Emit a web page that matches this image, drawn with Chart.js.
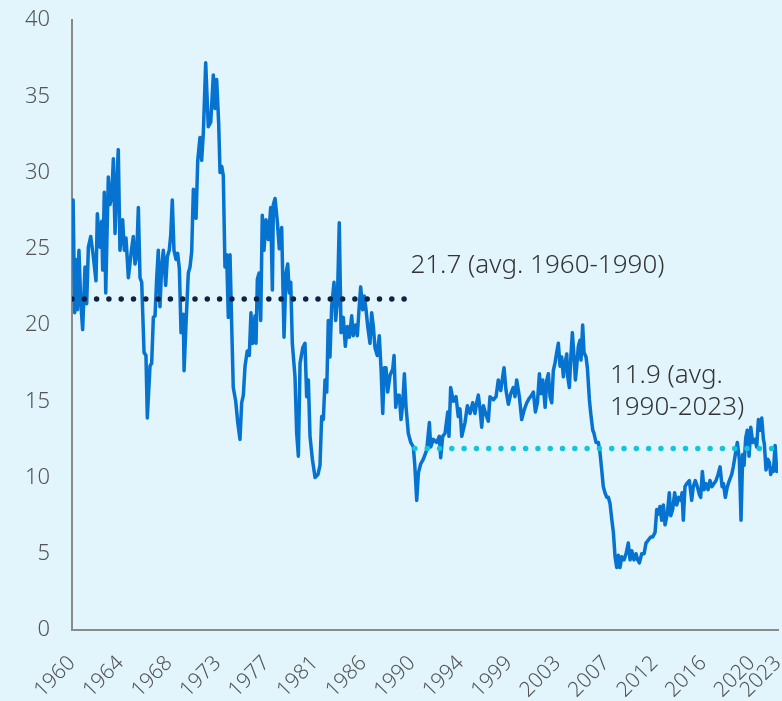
<!DOCTYPE html>
<html>
<head>
<meta charset="utf-8">
<script src="https://cdn.jsdelivr.net/npm/chart.js@4/dist/chart.umd.min.js"></script>
<style>
  html, body { margin: 0; padding: 0; background: #e2f4fc; }
  #wrap { width: 782px; height: 701px; }
</style>
</head>
<body>
<div id="wrap"><canvas id="peChart"></canvas></div>
<script>
  // Series (decimal year, value)
  const peYears = [
    1960.00, 1960.10, 1960.24, 1960.36, 1960.48, 1960.62, 1960.78, 1960.95, 1961.16, 1961.31,
    1961.46, 1961.67, 1961.90, 1962.14, 1962.26, 1962.50, 1962.65, 1962.74, 1962.88, 1963.01,
    1963.24, 1963.39, 1963.54, 1963.69, 1963.84, 1963.99, 1964.13, 1964.28, 1964.52, 1964.67,
    1964.82, 1965.03, 1965.27, 1965.47, 1965.62, 1965.77, 1965.92, 1966.07, 1966.22, 1966.43,
    1966.60, 1966.72, 1966.96, 1967.11, 1967.26, 1967.41, 1967.56, 1967.70, 1967.85, 1968.00,
    1968.15, 1968.36, 1968.51, 1968.68, 1968.81, 1968.95, 1969.10, 1969.28, 1969.43, 1969.58,
    1969.73, 1969.93, 1970.00, 1970.17, 1970.38, 1970.53, 1970.68, 1970.83, 1971.07, 1971.22,
    1971.42, 1971.57, 1971.72, 1971.93, 1972.16, 1972.38, 1972.61, 1972.76, 1972.91, 1973.09,
    1973.21, 1973.36, 1973.50, 1973.65, 1973.80, 1973.95, 1974.10, 1974.25, 1974.39, 1974.61,
    1974.79, 1974.99, 1975.14, 1975.29, 1975.44, 1975.64, 1975.82, 1975.97, 1976.12, 1976.33,
    1976.42, 1976.54, 1976.69, 1976.84, 1976.98, 1977.13, 1977.31, 1977.52, 1977.73, 1977.88,
    1977.97, 1978.12, 1978.32, 1978.50, 1978.71, 1978.92, 1979.10, 1979.25, 1979.39, 1979.52,
    1979.66, 1979.90, 1980.05, 1980.20, 1980.35, 1980.59, 1980.79, 1980.94, 1981.09, 1981.24,
    1981.45, 1981.69, 1981.95, 1982.13, 1982.28, 1982.43, 1982.58, 1982.73, 1982.87, 1983.02,
    1983.17, 1983.38, 1983.53, 1983.68, 1983.85, 1984.01, 1984.21, 1984.39, 1984.57, 1984.75,
    1984.96, 1985.10, 1985.32, 1985.46, 1985.61, 1985.76, 1985.94, 1986.08, 1986.24, 1986.39,
    1986.59, 1986.74, 1986.89, 1987.04, 1987.24, 1987.42, 1987.58, 1987.73, 1987.87, 1988.02,
    1988.17, 1988.38, 1988.62, 1988.74, 1988.89, 1989.03, 1989.21, 1989.36, 1989.51, 1989.66,
    1989.81, 1990.01, 1990.23, 1990.46, 1990.58, 1990.76, 1990.91, 1991.12, 1991.35, 1991.65,
    1991.89, 1992.01, 1992.24, 1992.54, 1992.78, 1992.90, 1993.08, 1993.29, 1993.53, 1993.64,
    1993.79, 1994.03, 1994.27, 1994.47, 1994.62, 1994.78, 1995.07, 1995.28, 1995.52, 1995.76,
    1995.96, 1996.11, 1996.26, 1996.41, 1996.56, 1996.71, 1996.95, 1997.15, 1997.30, 1997.60,
    1997.84, 1998.04, 1998.26, 1998.43, 1998.55, 1998.73, 1998.94, 1999.15, 1999.38, 1999.53,
    1999.68, 1999.92, 2000.13, 2000.34, 2000.58, 2000.81, 2001.02, 2001.17, 2001.35, 2001.53,
    2001.71, 2001.86, 2002.01, 2002.22, 2002.37, 2002.51, 2002.66, 2002.81, 2002.95, 2003.10,
    2003.25, 2003.40, 2003.55, 2003.70, 2003.85, 2004.00, 2004.15, 2004.24, 2004.38, 2004.53,
    2004.65, 2004.80, 2004.92, 2005.04, 2005.18, 2005.33, 2005.42, 2005.57, 2005.69, 2005.87,
    2005.99, 2006.17, 2006.29, 2006.47, 2006.58, 2006.76, 2006.97, 2007.12, 2007.27, 2007.41,
    2007.56, 2007.72, 2007.86, 2008.01, 2008.16, 2008.31, 2008.46, 2008.61, 2008.75, 2008.90,
    2009.06, 2009.26, 2009.44, 2009.64, 2009.80, 2009.95, 2010.15, 2010.33, 2010.48, 2010.63,
    2010.84, 2011.05, 2011.22, 2011.43, 2011.64, 2011.82, 2012.03, 2012.18, 2012.32, 2012.47,
    2012.62, 2012.77, 2012.92, 2013.12, 2013.30, 2013.43, 2013.60, 2013.78, 2013.96, 2014.14,
    2014.32, 2014.44, 2014.55, 2014.70, 2014.86, 2015.09, 2015.30, 2015.44, 2015.62, 2015.80,
    2015.98, 2016.10, 2016.25, 2016.40, 2016.58, 2016.76, 2016.93, 2017.11, 2017.29, 2017.47,
    2017.65, 2017.83, 2018.01, 2018.13, 2018.30, 2018.48, 2018.66, 2018.87, 2019.01, 2019.19,
    2019.37, 2019.55, 2019.70, 2019.85, 2019.97, 2020.12, 2020.26, 2020.42, 2020.57, 2020.74,
    2020.95, 2021.10, 2021.25, 2021.40, 2021.55, 2021.70, 2021.78, 2021.93, 2022.08, 2022.23,
    2022.35, 2022.47, 2022.59, 2022.74, 2022.89, 2023.00
  ];
  const peValues = [
    27.5, 28.2, 20.8, 24.3, 21.0, 24.9, 21.5, 19.7, 23.8, 21.4,
    25.1, 25.8, 24.5, 22.9, 27.3, 25.1, 26.8, 23.6, 28.7, 22.1,
    29.7, 27.9, 28.4, 30.9, 26.0, 29.2, 31.5, 24.9, 26.9, 24.9,
    25.7, 23.1, 24.7, 25.8, 24.0, 24.5, 27.7, 23.1, 22.8, 18.2,
    18.0, 13.9, 17.3, 17.5, 20.5, 20.6, 23.1, 24.9, 21.2, 23.8,
    24.9, 22.6, 24.5, 24.9, 25.9, 28.2, 24.9, 24.3, 24.7, 23.7,
    19.5, 20.7, 17.0, 20.0, 23.4, 23.8, 24.8, 28.9, 27.0, 30.8,
    32.3, 30.8, 32.6, 37.2, 33.0, 33.3, 36.4, 34.2, 36.1, 33.2,
    30.0, 30.4, 29.8, 23.8, 24.6, 20.5, 24.6, 20.0, 15.9, 15.0,
    13.6, 12.5, 14.9, 15.4, 17.3, 18.3, 18.0, 20.8, 18.8, 20.6,
    18.8, 23.0, 23.4, 20.3, 27.2, 24.9, 26.9, 25.6, 27.7, 22.3,
    27.9, 28.3, 26.8, 25.0, 26.4, 19.2, 23.4, 24.0, 22.1, 22.8,
    18.8, 16.6, 12.9, 11.4, 17.5, 18.5, 18.8, 15.3, 16.4, 12.7,
    11.2, 10.0, 10.2, 10.8, 14.0, 13.8, 16.4, 15.6, 20.3, 17.9,
    21.2, 22.8, 20.3, 21.5, 26.7, 19.5, 20.5, 18.6, 19.9, 19.2,
    20.6, 19.3, 20.0, 19.3, 21.0, 22.5, 21.0, 21.9, 21.0, 19.9,
    18.8, 20.8, 19.9, 18.5, 18.0, 19.3, 17.1, 14.2, 17.2, 17.2,
    15.6, 16.7, 17.1, 18.0, 14.6, 15.4, 15.4, 13.8, 14.8, 16.8,
    14.6, 12.9, 12.3, 12.0, 10.9, 8.5, 10.3, 10.9, 11.2, 11.8,
    13.6, 12.0, 12.5, 12.3, 12.7, 11.3, 12.7, 12.9, 14.3, 12.7,
    15.9, 15.0, 15.3, 14.0, 14.5, 12.7, 13.6, 14.7, 14.2, 14.9,
    14.2, 14.9, 15.4, 14.5, 13.3, 14.7, 14.1, 13.7, 15.3, 15.1,
    15.3, 16.4, 15.7, 16.6, 17.2, 15.7, 14.8, 15.5, 15.9, 15.3,
    16.4, 15.3, 13.8, 14.4, 14.9, 15.2, 15.4, 15.6, 14.3, 14.9,
    16.8, 15.5, 16.4, 14.6, 16.4, 16.8, 15.3, 14.9, 17.0, 17.5,
    18.2, 18.8, 17.3, 17.9, 16.6, 17.5, 18.1, 16.6, 15.9, 18.1,
    19.5, 17.9, 16.4, 17.3, 18.6, 19.0, 17.7, 20.0, 18.2, 17.9,
    17.2, 15.1, 14.2, 13.1, 12.9, 12.3, 12.3, 11.6, 10.5, 9.4,
    9.0, 8.7, 8.7, 8.3, 7.3, 6.4, 4.8, 4.1, 4.9, 4.1,
    4.8, 4.6, 5.0, 5.7, 4.6, 5.2, 4.6, 5.0, 4.6, 4.4,
    5.0, 5.0, 5.7, 5.9, 6.1, 6.1, 6.4, 7.9, 7.6, 8.1,
    7.2, 8.2, 6.9, 7.6, 9.0, 7.5, 7.9, 9.0, 8.2, 8.7,
    8.5, 9.0, 7.2, 9.4, 9.6, 9.8, 8.5, 9.4, 9.8, 9.4,
    8.9, 8.7, 10.4, 9.2, 9.6, 9.2, 9.8, 9.4, 9.6, 9.8,
    10.2, 10.7, 9.4, 9.6, 8.7, 9.4, 9.8, 10.2, 10.7, 11.5,
    12.3, 11.2, 7.2, 11.5, 10.8, 12.6, 13.1, 11.4, 13.3, 12.3,
    12.5, 12.0, 13.8, 13.1, 13.9, 12.5, 12.2, 10.5, 11.2, 11.0,
    10.2, 10.6, 10.4, 12.1, 10.4, 11.0
  ];

  // Period averages
  const oldAvgValue = 21.7;
  const oldAvgSpan = [1960, 1989.7];
  const oldAvgLabel = ['21.7 (avg. 1960-1990)'];
  const newAvgValue = 11.9;
  const newAvgSpan = [1990.6, 2022.6];
  const newAvgLabel = ['11.9 (avg.', '1990-2023)'];

  // Axis labels
  const xTickLabels = ['1960', '1964', '1968', '1973', '1977', '1981', '1986', '1990',
    '1994', '1999', '2003', '2007', '2012', '2016', '2020', '2023'];
  const X_MIN = 1960;
  const X_MAX = 2023;
  const Y_MIN = 0;
  const Y_MAX = 40;
  const Y_STEP = 5;

  const BG = '#e2f4fc';
  const FONT = '"Noto Sans", "Open Sans", sans-serif';

  // Paint the light blue background behind everything
  const backgroundPlugin = {
    id: 'background',
    beforeDraw(chart) {
      const ctx = chart.ctx;
      ctx.save();
      ctx.fillStyle = BG;
      ctx.fillRect(0, 0, chart.width, chart.height);
      ctx.restore();
    }
  };

  // Text next to the two average lines
  const avgLabelPlugin = {
    id: 'avgLabels',
    afterDatasetsDraw(chart) {
      const { ctx, scales: { x, y } } = chart;
      ctx.save();
      ctx.font = '300 26px ' + FONT;
      ctx.fillStyle = '#333';
      ctx.textAlign = 'left';
      ctx.textBaseline = 'alphabetic';
      oldAvgLabel.forEach((line, i) => {
        ctx.fillText(line, x.getPixelForValue(1990.2), y.getPixelForValue(oldAvgValue) - 26 + i * 32);
      });
      newAvgLabel.forEach((line, i) => {
        ctx.fillText(line, x.getPixelForValue(2008.0), y.getPixelForValue(newAvgValue) - 66 + i * 32);
      });
      ctx.restore();
    }
  };

  function dottedLine(span, value, color) {
    return {
      data: span.map(v => ({ x: v, y: value })),
      borderColor: color,
      borderWidth: 5.5,
      borderDash: [0, 12.3],
      borderCapStyle: 'round',
      pointRadius: 0,
      order: 0
    };
  }

  const ctx = document.getElementById('peChart').getContext('2d');
  new Chart(ctx, {
    type: 'line',
    data: {
      datasets: [
        {
          data: peYears.map((yr, i) => ({ x: yr, y: peValues[i] })),
          borderColor: '#0573cf',
          borderWidth: 3.5,
          borderJoinStyle: 'round',
          pointRadius: 0,
          tension: 0,
          order: 1
        },
        dottedLine(oldAvgSpan, oldAvgValue, '#0c2442'),
        dottedLine(newAvgSpan, newAvgValue, '#12c5dc')
      ]
    },
    options: {
      responsive: true,
      maintainAspectRatio: false,
      animation: false,
      layout: { padding: { top: 20, right: 4, left: 0, bottom: 0 } },
      plugins: {
        legend: { display: false },
        tooltip: { enabled: false }
      },
      scales: {
        x: {
          type: 'linear',
          min: X_MIN,
          max: X_MAX,
          afterBuildTicks(scale) {
            // one label every 52 months, plus the last month
            scale.ticks = xTickLabels.map((label, i) => ({
              value: i === xTickLabels.length - 1 ? X_MAX : X_MIN + i * 52 / 12
            }));
          },
          afterFit(scale) {
            scale.height = 71;
            scale.paddingLeft = 0;
            scale.paddingRight = 0;
          },
          grid: { display: false, drawTicks: false },
          border: { display: true, color: '#8a8a8a', width: 2 },
          ticks: {
            autoSkip: false,
            minRotation: 45,
            maxRotation: 45,
            padding: 21,
            color: '#555',
            font: { family: FONT, size: 21, weight: '300' },
            callback: (value, index) => xTickLabels[index]
          }
        },
        y: {
          min: Y_MIN,
          max: Y_MAX,
          afterFit(scale) {
            scale.width = 72;
            scale.paddingTop = 0;
            scale.paddingBottom = 0;
          },
          grid: { display: false, drawTicks: false },
          border: { display: true, color: '#8a8a8a', width: 2 },
          ticks: {
            stepSize: Y_STEP,
            padding: 22,
            color: '#555',
            font: { family: FONT, size: 22, weight: '300' }
          }
        }
      }
    },
    plugins: [backgroundPlugin, avgLabelPlugin]
  });
</script>
</body>
</html>
